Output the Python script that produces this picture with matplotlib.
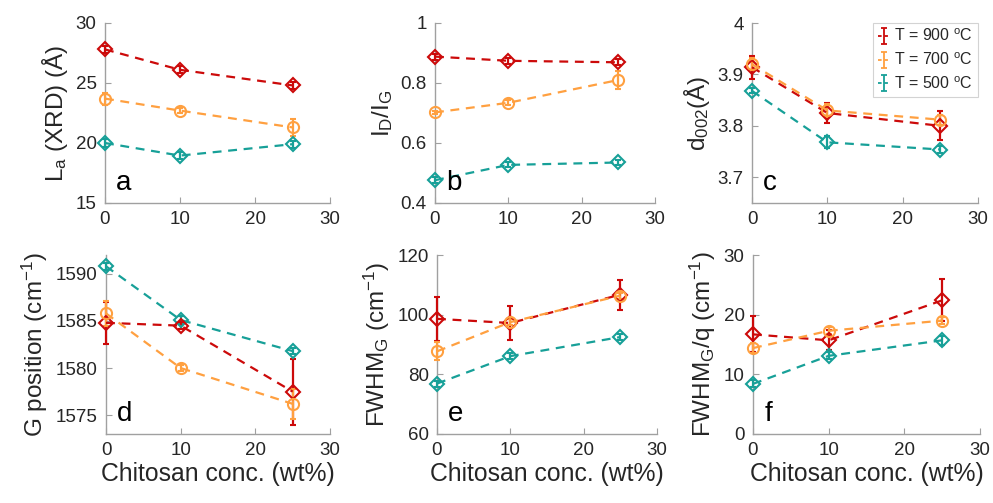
import numpy as np
import matplotlib
matplotlib.use("Agg")
import matplotlib.pyplot as plt

plt.rcParams['font.family'] = ['Liberation Sans', 'DejaVu Sans']
plt.rcParams['mathtext.fontset'] = 'custom'
plt.rcParams['mathtext.rm'] = 'Liberation Sans'
plt.rcParams['mathtext.it'] = 'Liberation Sans:italic'
plt.rcParams['mathtext.default'] = 'regular'

# ---------------- data ----------------
conc = [0, 10, 25]
series_labels = ["T = 900 $^{\\rm o}$C", "T = 700 $^{\\rm o}$C", "T = 500 $^{\\rm o}$C"]
series_colors = ["#cc0a0a", "#ffa040", "#17a098"]
series_markers = ["D", "o", "D"]

# (a) La (XRD) in Angstrom
la_900 = [27.8, 26.1, 24.8]
la_700 = [23.7, 22.7, 21.3]
la_500 = [20.0, 18.95, 19.9]
la_err_900 = [0.3, 0.3, 0.3]
la_err_700 = [0.5, 0.2, 0.7]
la_err_500 = [0.3, 0.3, 0.3]

# (b) ID/IG
idig_900 = [0.888, 0.874, 0.869]
idig_700 = [0.702, 0.734, 0.810]
idig_500 = [0.476, 0.527, 0.535]
idig_err_900 = [0.01, 0.01, 0.01]
idig_err_700 = [0.005, 0.008, 0.03]
idig_err_500 = [0.01, 0.008, 0.008]

# (c) d002 in Angstrom
d002_900 = [3.914, 3.825, 3.800]
d002_700 = [3.920, 3.830, 3.812]
d002_500 = [3.868, 3.768, 3.754]
d002_err_900 = [0.022, 0.020, 0.028]
d002_err_700 = [0.012, 0.012, 0.01]
d002_err_500 = [0.005, 0.012, 0.006]

# (d) G position (cm-1)
gpos_900 = [1584.8, 1584.5, 1577.5]
gpos_700 = [1585.8, 1580.0, 1576.2]
gpos_500 = [1590.8, 1585.1, 1581.8]
gpos_err_900 = [2.2, 0.4, 3.5]
gpos_err_700 = [1.3, 0.3, 1.6]
gpos_err_500 = [0.4, 0.4, 0.3]

# (e) FWHM_G (cm-1)
fwhm_900 = [98.6, 97.2, 106.7]
fwhm_700 = [87.7, 97.5, 106.4]
fwhm_500 = [76.9, 86.1, 92.5]
fwhm_err_900 = [7.3, 5.8, 5.0]
fwhm_err_700 = [3.0, 1.0, 1.0]
fwhm_err_500 = [1.0, 1.0, 1.0]

# (f) FWHM_G / q (cm-1)
fq_900 = [16.7, 15.7, 22.4]
fq_700 = [14.4, 17.3, 19.0]
fq_500 = [8.4, 13.1, 15.7]
fq_err_900 = [3.0, 1.7, 3.5]
fq_err_700 = [0.9, 0.6, 0.6]
fq_err_500 = [0.6, 0.6, 0.8]

panels = [
    dict(vals=[la_900, la_700, la_500], errs=[la_err_900, la_err_700, la_err_500],
         ylabel="L$_a$ (XRD) (Å)", ylim=(15, 30), yticks=[15, 20, 25, 30],
         yfmt=None, letter="a"),
    dict(vals=[idig_900, idig_700, idig_500], errs=[idig_err_900, idig_err_700, idig_err_500],
         ylabel="I$_D$/I$_G$", ylim=(0.4, 1.0), yticks=[0.4, 0.6, 0.8, 1.0],
         yfmt=["0.4", "0.6", "0.8", "1"], letter="b"),
    dict(vals=[d002_900, d002_700, d002_500], errs=[d002_err_900, d002_err_700, d002_err_500],
         ylabel="d$_{002}$(Å)", ylim=(3.65, 4.0), yticks=[3.7, 3.8, 3.9, 4.0],
         yfmt=["3.7", "3.8", "3.9", "4"], letter="c"),
    dict(vals=[gpos_900, gpos_700, gpos_500], errs=[gpos_err_900, gpos_err_700, gpos_err_500],
         ylabel="G position (cm$^{-1}$)", ylim=(1573, 1592), yticks=[1575, 1580, 1585, 1590],
         yfmt=None, letter="d"),
    dict(vals=[fwhm_900, fwhm_700, fwhm_500], errs=[fwhm_err_900, fwhm_err_700, fwhm_err_500],
         ylabel="FWHM$_G$ (cm$^{-1}$)", ylim=(60, 120), yticks=[60, 80, 100, 120],
         yfmt=None, letter="e"),
    dict(vals=[fq_900, fq_700, fq_500], errs=[fq_err_900, fq_err_700, fq_err_500],
         ylabel="FWHM$_G$/q (cm$^{-1}$)", ylim=(0, 30), yticks=[0, 10, 20, 30],
         yfmt=None, letter="f"),
]

W, H = 993, 503
fig = plt.figure(figsize=(W / 100, H / 100), dpi=100)

# axes rectangles in pixels: (left, top, right, bottom)
rects = [
    (105, 23, 330, 203), (435, 23, 655, 203), (752, 23, 978, 203),
    (106, 255, 330, 434), (437, 255, 657, 434), (753, 255, 980, 434),
]

spine_col = "#a0a0a0"
text_col = "#262626"
axes = []
for i, (p, r) in enumerate(zip(panels, rects)):
    l, t, rr, b = r
    ax = fig.add_axes([l / W, 1 - b / H, (rr - l) / W, (b - t) / H])
    axes.append(ax)
    order = [0, 1, 2]
    if i == 3:
        order = [2, 0, 1]
    for k in order:
        cont = ax.errorbar(conc, p["vals"][k], yerr=p["errs"][k], color=series_colors[k],
                           ls=(0, (4, 3)), lw=1.6, marker=series_markers[k],
                           markersize=8 if series_markers[k] == "o" else 7,
                           mfc="none", mec=series_colors[k], mew=1.5,
                           elinewidth=1.6, capsize=2.5, capthick=1.6)
        for child in cont.get_children():
            child.set_clip_on(False)
    ax.set_xlim(0, 30)
    ax.set_xticks([0, 10, 20, 30])
    ax.set_ylim(*p["ylim"])
    ax.set_yticks(p["yticks"])
    if p["yfmt"]:
        ax.set_yticklabels(p["yfmt"])
    for s in ["top", "right"]:
        ax.spines[s].set_visible(False)
    for s in ["left", "bottom"]:
        ax.spines[s].set_color(spine_col)
        ax.spines[s].set_linewidth(1.0)
        ax.spines[s].set_zorder(0.5)
    ax.tick_params(direction="in", length=4, width=0.8, color=spine_col,
                   labelsize=13.5, labelcolor=text_col, pad=6)
    ax.set_ylabel(p["ylabel"], fontsize=17.5, color=text_col, labelpad=4)
    if i >= 3:
        ax.set_xlabel("Chitosan conc. (wt%)", fontsize=17.8, color=text_col, labelpad=2)
    ax.text(0.05, 0.04, p["letter"], transform=ax.transAxes, fontsize=20,
            ha="left", va="bottom", color="black")

# legend in panel c using errorbar proxies
axc = axes[2]
handles = []
for k in range(3):
    h = axc.errorbar([np.nan], [np.nan], yerr=[np.nan], color=series_colors[k],
                     ls=(0, (2, 1.5)), lw=1.3, marker="none", elinewidth=1.3,
                     capsize=2, capthick=1.3)
    handles.append(h)
leg = axc.legend(handles, series_labels, loc="upper right", bbox_to_anchor=(1.0, 1.0),
                 fontsize=11.5, frameon=True, fancybox=False, handlelength=0.8,
                 handletextpad=0.25, borderpad=0.3, labelspacing=0.45,
                 borderaxespad=0.0)
leg.get_frame().set_edgecolor("#c8c8c8")
leg.get_frame().set_linewidth(0.8)
for t in leg.get_texts():
    t.set_color(text_col)

fig.savefig("out.png", dpi=100)
